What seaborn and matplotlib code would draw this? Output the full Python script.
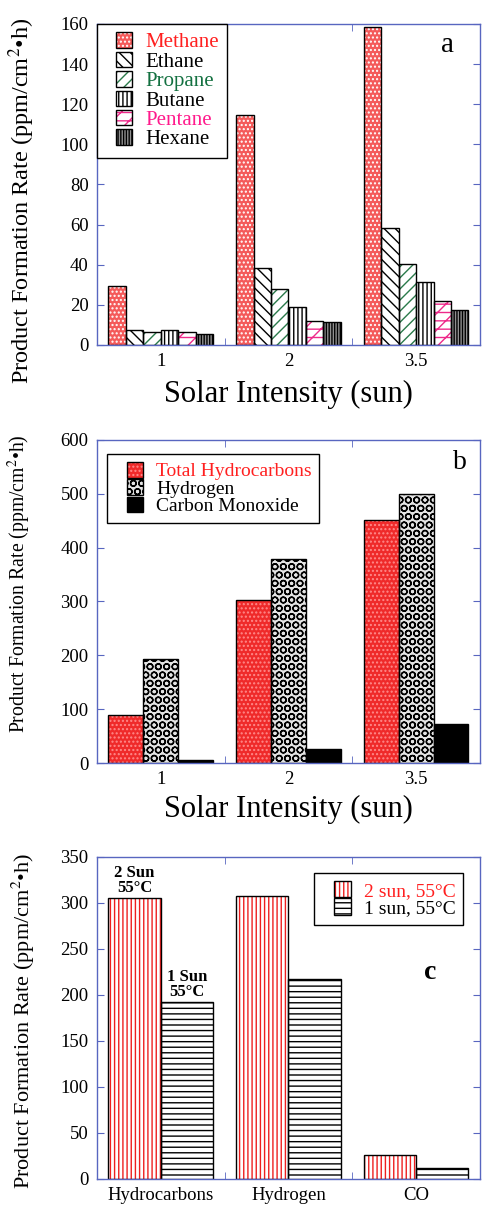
import numpy as np
import pandas as pd
import matplotlib
matplotlib.use('Agg')
import matplotlib.pyplot as plt
import seaborn as sns
from matplotlib.patches import Patch, Rectangle
from matplotlib.legend_handler import HandlerTuple, HandlerPatch

# ---------------- data ----------------
intensities = ['1', '2', '3.5']
gases_a = ['Methane', 'Ethane', 'Propane', 'Butane', 'Pentane', 'Hexane']
methane = [29.5, 114.5, 158.5]
ethane = [7.5, 38.5, 58.5]
propane = [6.3, 27.7, 40.5]
butane = [7.5, 18.8, 31.5]
pentane = [6.3, 12.1, 22.1]
hexane = [5.3, 11.6, 17.6]

products_b = ['Total Hydrocarbons', 'Hydrogen', 'Carbon Monoxide']
total_hc = [89, 303, 451]
hydrogen = [194, 379, 499]
carbon_monoxide = [5.5, 26, 73]

categories_c = ['Hydrocarbons', 'Hydrogen', 'CO']
conditions_c = ['2 sun, 55°C', '1 sun, 55°C']
two_sun = [305, 307.5, 25.7]
one_sun = [192, 217, 11.6]
annot_c = ['2 Sun\n55°C', '1 Sun\n55°C']

ylabel = 'Product Formation Rate (ppm/cm$^{2}$•h)'
xlabel = 'Solar Intensity (sun)'

# ---------------- style ----------------
plt.rcParams['font.family'] = ['Liberation Serif', 'DejaVu Serif']
plt.rcParams['mathtext.fontset'] = 'stix'
plt.rcParams['hatch.linewidth'] = 1.0
BLUE = '#5866c0'

styles_a = [
    dict(face='#f45a5a', hatch='....', hc='white', tc='#ff2020'),
    dict(face='white', hatch='\\\\\\', hc='black', tc='black'),
    dict(face='white', hatch='///', hc='#2a7a4a', tc='#137040'),
    dict(face='white', hatch='||||', hc='black', tc='black'),
    dict(face='white', hatch='//--', hc='#ee2a8a', tc='#ff1a8c'),
    dict(face='#909090', hatch='||||||', hc='black', tc='black'),
]
styles_b = [
    dict(face='#ef2a2a', hatch='....', hc='#ff8a8a', tc='#ff2020'),
    dict(face='#e4e4e4', hatch='OO', hc='black', tc='black'),
    dict(face='black', hatch='', hc='black', tc='black'),
]
styles_c = [
    dict(face='white', hatch='||||', hc='#ee2020', tc='#ff2020'),
    dict(face='white', hatch='---', hc='black', tc='black'),
]


def long_df(xcats, names, series, xname, hname):
    rows = []
    for n, vals in zip(names, series):
        for x, v in zip(xcats, vals):
            rows.append({xname: x, hname: n, 'Rate': v})
    return pd.DataFrame(rows)


def style_bars(ax, styles):
    for cont, st in zip(ax.containers, styles):
        for bar in cont:
            bar.set_facecolor(st['face'])
            bar.set_hatch(st['hatch'])
            bar.set_edgecolor(st['hc'])
            bar.set_linewidth(0)
            ax.add_patch(Rectangle(bar.get_xy(), bar.get_width(), bar.get_height(),
                                   fill=False, edgecolor='black', linewidth=1.0,
                                   zorder=bar.get_zorder() + 0.1))


def square_patch(legend, orig_handle, xdescent, ydescent, width, height, fontsize):
    side = height
    return Rectangle((-xdescent + width - side, -ydescent), side, side)


HMAP = {tuple: HandlerTuple(ndivide=1, pad=0), Patch: HandlerPatch(patch_func=square_patch)}


def make_handles(styles):
    hs = []
    for st in styles:
        hs.append((Patch(facecolor=st['face'], hatch=st['hatch'], edgecolor=st['hc'], linewidth=0),
                   Patch(facecolor='none', edgecolor='black', linewidth=1.0)))
    return hs


def add_legend(ax, styles, labels, **kw):
    leg = ax.legend(make_handles(styles), labels, borderaxespad=0, handler_map=HMAP,
                    fancybox=False, edgecolor='black', framealpha=1, **kw)
    leg.get_frame().set_linewidth(1.0)
    for t, st in zip(leg.get_texts(), styles):
        t.set_color(st['tc'])
    return leg


def frame_axes(ax, ymax, ystep, labelsize=13.5):
    for s in ax.spines.values():
        s.set_color(BLUE)
        s.set_linewidth(1.0)
    ax.set_ylim(0, ymax)
    ax.set_yticks(np.arange(0, ymax + 1, ystep))
    ax.set_xlim(-0.5, 2.5)
    ax.tick_params(axis='y', which='major', left=True, right=True, direction='in',
                   length=5, color=BLUE, labelcolor='black', labelsize=labelsize, pad=6)
    ax.tick_params(axis='x', which='major', length=0, labelsize=labelsize, pad=6, labelcolor='black')
    ax.set_xticks([0.5, 1.5], minor=True)
    ax.tick_params(axis='x', which='minor', top=True, bottom=True, direction='in',
                   length=5, color=BLUE)


fig = plt.figure(figsize=(4.84, 12.05), dpi=100)
L, W = 0.2004, 0.7913

# ---------------- panel a ----------------
ax1 = fig.add_axes([L, 0.7137, W, 0.2664])
df_a = long_df(intensities, gases_a, [methane, ethane, propane, butane, pentane, hexane],
               'Intensity', 'Gas')
sns.barplot(data=df_a, x='Intensity', y='Rate', hue='Gas', order=intensities,
            hue_order=gases_a, width=0.82, errorbar=None, legend=False, ax=ax1)
style_bars(ax1, styles_a)
frame_axes(ax1, 160, 20)
ax1.set_xlabel(xlabel, fontsize=22, labelpad=7)
ax1.set_ylabel(ylabel, fontsize=17.5)
add_legend(ax1, styles_a, gases_a, loc='upper left', bbox_to_anchor=(0, 1), fontsize=15,
           handlelength=1.28, handleheight=0.77, labelspacing=-0.03, handletextpad=0.62,
           borderpad=0.4)
ax1.text(0.916, 0.935, 'a', transform=ax1.transAxes, fontsize=21, ha='center', va='center')

# ---------------- panel b ----------------
ax2 = fig.add_axes([L, 0.3668, W, 0.2681])
df_b = long_df(intensities, products_b, [total_hc, hydrogen, carbon_monoxide],
               'Intensity', 'Product')
sns.barplot(data=df_b, x='Intensity', y='Rate', hue='Product', order=intensities,
            hue_order=products_b, width=0.82, errorbar=None, legend=False, ax=ax2)
style_bars(ax2, styles_b)
frame_axes(ax2, 600, 100)
ax2.set_xlabel(xlabel, fontsize=22, labelpad=5)
ax2.set_ylabel(ylabel, fontsize=14.2)
add_legend(ax2, styles_b, products_b, loc='upper left', bbox_to_anchor=(0.026, 0.957),
           fontsize=14, handlelength=1.45, handleheight=0.88, labelspacing=-0.06,
           handletextpad=0.67, borderpad=0.4)
ax2.text(0.948, 0.929, 'b', transform=ax2.transAxes, fontsize=20, ha='center', va='center')

# ---------------- panel c ----------------
ax3 = fig.add_axes([L, 0.0216, W, 0.2672])
df_c = long_df(categories_c, conditions_c, [two_sun, one_sun], 'Product', 'Condition')
sns.barplot(data=df_c, x='Product', y='Rate', hue='Condition', order=categories_c,
            hue_order=conditions_c, width=0.82, errorbar=None, legend=False, ax=ax3)
style_bars(ax3, styles_c)
frame_axes(ax3, 350, 50)
ax3.set_xlabel('')
ax3.set_ylabel(ylabel, fontsize=16)
add_legend(ax3, styles_c, conditions_c, loc='upper right', bbox_to_anchor=(0.956, 0.95),
           fontsize=14, handlelength=1.5, handleheight=0.93, labelspacing=-0.08,
           handletextpad=0.67, borderpad=0.4)
for cont, txt in zip(ax3.containers, annot_c):
    bar = cont[0]
    ax3.annotate(txt, (bar.get_x() + bar.get_width() / 2, bar.get_height()),
                 xytext=(0, 2), textcoords='offset points', ha='center', va='bottom',
                 fontsize=12, fontweight='bold', linespacing=0.85)
ax3.text(0.869, 0.64, 'c', transform=ax3.transAxes, fontsize=20, fontweight='bold',
         ha='center', va='center')

ax1.yaxis.set_label_coords(-0.157, 0.449)
ax2.yaxis.set_label_coords(-0.167, 0.554)
ax3.yaxis.set_label_coords(-0.157, 0.49)

fig.savefig('out.png', dpi=100)
